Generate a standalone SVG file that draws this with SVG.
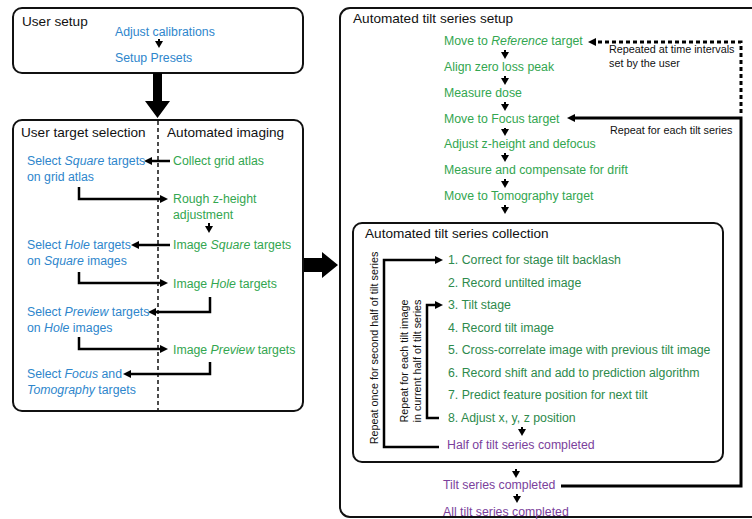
<svg xmlns="http://www.w3.org/2000/svg" width="752" height="519" viewBox="0 0 752 519">
<defs>
<style>
text{font-family:"Liberation Sans",Arial,sans-serif}
.h{font-size:13.6px;fill:#111}
.b{font-size:12.3px;fill:#2e86cc}
.g{font-size:12.3px;fill:#33a650}
.n{font-size:12.3px;fill:#2d8a4c}
.p{font-size:12.3px;fill:#7b3f9c}
.s{font-size:10.8px;fill:#111}
.i{font-style:italic}
.box{fill:#fff;stroke:#111;stroke-width:2}
.c{fill:none;stroke:#000;stroke-width:2.5;marker-end:url(#ah)}
.sa{fill:none;stroke:#000;stroke-width:2;marker-end:url(#ahs)}
</style>
<marker id="ah" viewBox="0 0 8 8" refX="3" refY="4" markerWidth="8" markerHeight="8" markerUnits="userSpaceOnUse" orient="auto"><path d="M0,0 L8,4 L0,8 z" fill="#000"/></marker>
<marker id="ahs" viewBox="0 0 7 8" refX="2" refY="4" markerWidth="7" markerHeight="8" markerUnits="userSpaceOnUse" orient="auto"><path d="M0,0 L7,4 L0,8 z" fill="#000"/></marker>
</defs>
<rect width="752" height="519" fill="#fff"/>

<g id="user-setup">
<rect class="box" x="13" y="8" width="290" height="65" rx="9"/>
<text class="h" x="22" y="26">User setup</text>
<text class="b" x="115" y="36">Adjust calibrations</text>
<text class="b" x="115" y="62">Setup Presets</text>
</g>

<g id="user-target-selection">
<rect class="box" x="13" y="120" width="290" height="291" rx="9"/>
<line x1="158" y1="121" x2="158" y2="410" stroke="#111" stroke-width="1.5" stroke-dasharray="4 3"/>
<text class="h" x="21" y="137">User target selection</text>
<text class="h" x="167" y="137">Automated imaging</text>
<text class="b" x="27" y="165">Select <tspan class="i">Square</tspan> targets</text>
<text class="b" x="27" y="181">on grid atlas</text>
<text class="b" x="27" y="249">Select <tspan class="i">Hole</tspan> targets</text>
<text class="b" x="27" y="265">on <tspan class="i">Square</tspan> images</text>
<text class="b" x="27" y="316">Select <tspan class="i">Preview</tspan> targets</text>
<text class="b" x="27" y="332">on <tspan class="i">Hole</tspan> images</text>
<text class="b" x="27" y="378">Select <tspan class="i">Focus</tspan> and</text>
<text class="b" x="27" y="394"><tspan class="i">Tomography</tspan> targets</text>
<text class="g" x="173" y="165">Collect grid atlas</text>
<text class="g" x="173" y="203">Rough z-height</text>
<text class="g" x="173" y="219">adjustment</text>
<text class="g" x="173" y="249">Image <tspan class="i">Square</tspan> targets</text>
<text class="g" x="173" y="288">Image <tspan class="i">Hole</tspan> targets</text>
<text class="g" x="173" y="354">Image <tspan class="i">Preview</tspan> targets</text>
</g>

<g id="automated-tilt-series-setup">
<rect class="box" x="340" y="8" width="440" height="509" rx="10"/>
<text class="h" x="353" y="23">Automated tilt series setup</text>
<text class="g" x="444" y="45">Move to <tspan class="i">Reference</tspan> target</text>
<text class="g" x="444" y="71">Align zero loss peak</text>
<text class="g" x="444" y="97">Measure dose</text>
<text class="g" x="444" y="123">Move to Focus target</text>
<text class="g" x="444" y="148">Adjust z-height and defocus</text>
<text class="g" x="444" y="174">Measure and compensate for drift</text>
<text class="g" x="444" y="200">Move to Tomography target</text>
<text class="s" x="609" y="53">Repeated at time intervals</text>
<text class="s" x="609" y="67">set by the user</text>
<text class="s" x="610" y="134">Repeat for each tilt series</text>
<text class="p" x="443" y="489">Tilt series completed</text>
<text class="p" x="443" y="516">All tilt series completed</text>
</g>

<g id="automated-tilt-series-collection">
<rect class="box" x="353" y="223" width="370" height="239" rx="9" stroke-width="1.6"/>
<text class="h" x="365" y="238">Automated tilt series collection</text>
<text class="n" x="448" y="264">1. Correct for stage tilt backlash</text>
<text class="n" x="448" y="287">2. Record untilted image</text>
<text class="n" x="448" y="309">3. Tilt stage</text>
<text class="n" x="448" y="332">4. Record tilt image</text>
<text class="n" x="448" y="354">5. Cross-correlate image with previous tilt image</text>
<text class="n" x="448" y="377">6. Record shift and add to prediction algorithm</text>
<text class="n" x="448" y="399">7. Predict feature position for next tilt</text>
<text class="n" x="448" y="422">8. Adjust x, y, z position</text>
<text class="p" x="447" y="449">Half of tilt series completed</text>
<text class="s" x="378" y="348" text-anchor="middle" transform="rotate(-90 378 348)">Repeat once for second half of tilt series</text>
<text class="s" x="408" y="361" text-anchor="middle" transform="rotate(-90 408 361)">Repeat for each tilt image</text>
<text class="s" x="421" y="361" text-anchor="middle" transform="rotate(-90 421 361)">in current half of tilt series</text>
</g>

<g id="connectors">
<path class="sa" d="M159,39 V43"/>
<polygon points="153,73 162,73 162,101 170,101 157.5,118 145,101 153,101" fill="#000"/>
<polygon points="304,258 322,258 322,252 338,265 322,278 322,272 304,272" fill="#000"/>
<path class="c" d="M170,161 H149"/>
<path class="c" d="M79,187 V199 H163"/>
<path class="sa" d="M209,223 V228"/>
<path class="c" d="M170,245 H136"/>
<path class="c" d="M79,272 V283 H163"/>
<path class="c" d="M210,297 V312 H153"/>
<path class="c" d="M79,337 V349 H163"/>
<path class="c" d="M210,362 V374 H128"/>
<path class="sa" d="M505,50 V54"/>
<path class="sa" d="M505,76 V80"/>
<path class="sa" d="M505,102 V106"/>
<path class="sa" d="M505,128 V131"/>
<path class="sa" d="M505,153 V157"/>
<path class="sa" d="M505,179 V183"/>
<path class="sa" d="M505,205 V209"/>
<path d="M741,113 V42 H593" fill="none" stroke="#000" stroke-width="3" stroke-dasharray="4 3" marker-end="url(#ah)"/>
<path d="M561,486 H741 V118 H572" fill="none" stroke="#000" stroke-width="3" marker-end="url(#ah)"/>
<path class="c" d="M439,447 H384 V260 H438"/>
<path class="c" d="M439,418 H427 V305 H438"/>
<path class="sa" d="M522,427 V431"/>
<path class="sa" d="M516,469 V473"/>
<path class="sa" d="M517,494 V498"/>
</g>
</svg>
